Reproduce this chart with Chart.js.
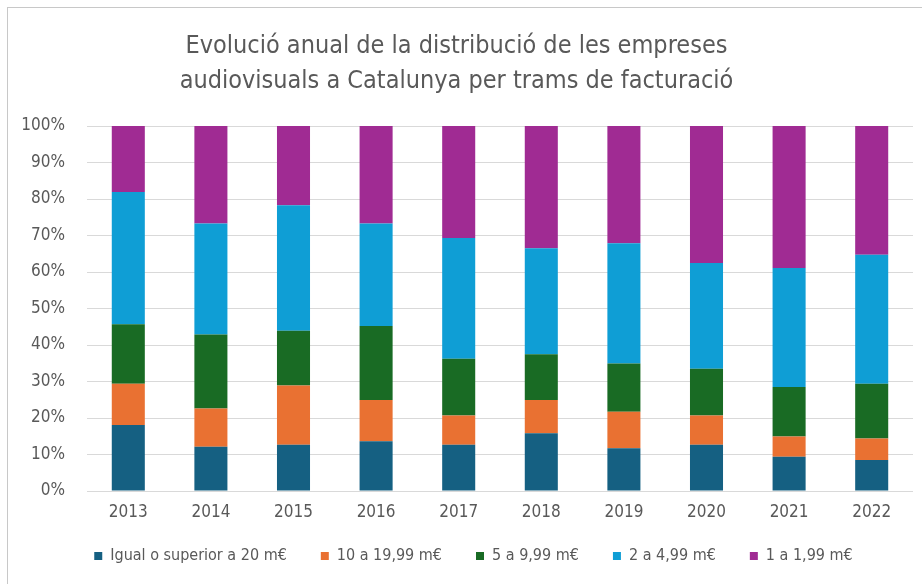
<!DOCTYPE html>
<html>
<head>
<meta charset="utf-8">
<script src="https://cdn.jsdelivr.net/npm/chart.js@4"></script>
<style>
  html, body { margin: 0; padding: 0; background: #fff; }
  #wrap { position: relative; width: 922px; height: 584px; overflow: hidden; }
  #frame { position: absolute; left: 7px; top: 7px; width: 930px; height: 600px; border: 1px solid #c8c8c8; box-sizing: border-box; }
  canvas { position: absolute; left: 0; top: 0; }
</style>
</head>
<body>
<div id="wrap">
  <div id="frame"></div>
  <canvas id="chart" width="922" height="584"></canvas>
</div>
<script>
// years on the x axis
const years = ['2013', '2014', '2015', '2016', '2017', '2018', '2019', '2020', '2021', '2022'];

// share of companies per revenue band (%)
const igual20 = [18.1, 12.1, 12.7, 13.6, 12.7, 15.8, 11.7, 12.7, 9.4, 8.5];
const de10a20 = [11.3, 10.5, 16.2, 11.3, 8.0, 9.1, 10.0, 8.0, 5.5, 5.9];
const de5a10 = [16.3, 20.3, 15.0, 20.3, 15.5, 12.6, 13.2, 12.8, 13.6, 15.0];
const de2a5 = [36.2, 30.4, 34.4, 28.1, 33.1, 29.0, 33.0, 29.0, 32.6, 35.3];
const de1a2 = [18.1, 26.7, 21.7, 26.7, 30.7, 33.5, 32.1, 37.5, 38.9, 35.3];

const seriesLabels = ['Igual o superior a 20 m€', '10 a 19,99 m€', '5 a 9,99 m€', '2 a 4,99 m€', '1 a 1,99 m€'];
const titleLines = ['Evolució anual de la distribució de les empreses', 'audiovisuals a Catalunya per trams de facturació'];

const FONT = "'DejaVu Sans Condensed', 'Liberation Sans', Arial, sans-serif";
const TEXT = '#595959';
const colors = ['#156082', '#E97132', '#196B24', '#0F9ED5', '#A02B93'];

const series = [igual20, de10a20, de5a10, de2a5, de1a2];

// the legend's label padding sets both the gap between items and the space above them;
// keep the wide gaps but nudge the row into place
const LEGEND_SHIFT_X = 17;
const LEGEND_SHIFT_Y = -6;
const legendNudge = {
  id: 'legendNudge',
  beforeLayout(chart) {
    const lg = chart.legend;
    if (!lg || lg._nudged) return;
    const draw = lg.draw.bind(lg);
    lg.draw = function () {
      this.ctx.save();
      this.ctx.translate(LEGEND_SHIFT_X, LEGEND_SHIFT_Y);
      draw();
      this.ctx.restore();
    };
    lg._nudged = true;
  }
};

new Chart(document.getElementById('chart'), {
  type: 'bar',
  data: {
    labels: years,
    datasets: series.map((data, i) => ({
      label: seriesLabels[i],
      data,
      backgroundColor: colors[i],
      borderWidth: 0,
      categoryPercentage: 1,
      barPercentage: 0.4
    }))
  },
  plugins: [legendNudge],
  options: {
    responsive: false,
    animation: false,
    layout: { padding: { left: 0, right: 9, top: 22, bottom: 4 } },
    plugins: {
      title: {
        display: true,
        text: titleLines,
        color: TEXT,
        font: { family: FONT, size: 25, weight: 'normal', lineHeight: 1.4 },
        padding: { top: 7, bottom: 27 }
      },
      legend: {
        position: 'bottom',
        labels: {
          color: TEXT,
          font: { family: FONT, size: 16 },
          boxWidth: 8, boxHeight: 8,
          padding: 34
        }
      },
      tooltip: { enabled: false }
    },
    scales: {
      x: {
        stacked: true,
        afterFit(scale) { scale.height = 29; },
        grid: { display: false },
        border: { display: false },
        ticks: { color: TEXT, font: { family: FONT, size: 17 }, padding: 3 }
      },
      y: {
        stacked: true,
        min: 0, max: 100,
        afterFit(scale) { scale.width = 87; },
        grid: { color: '#d9d9d9', drawTicks: false },
        border: { display: false },
        ticks: {
          stepSize: 10,
          color: TEXT,
          font: { family: FONT, size: 17 },
          padding: 22,
          callback: v => v + '%'
        }
      }
    }
  }
});
</script>
</body>
</html>
